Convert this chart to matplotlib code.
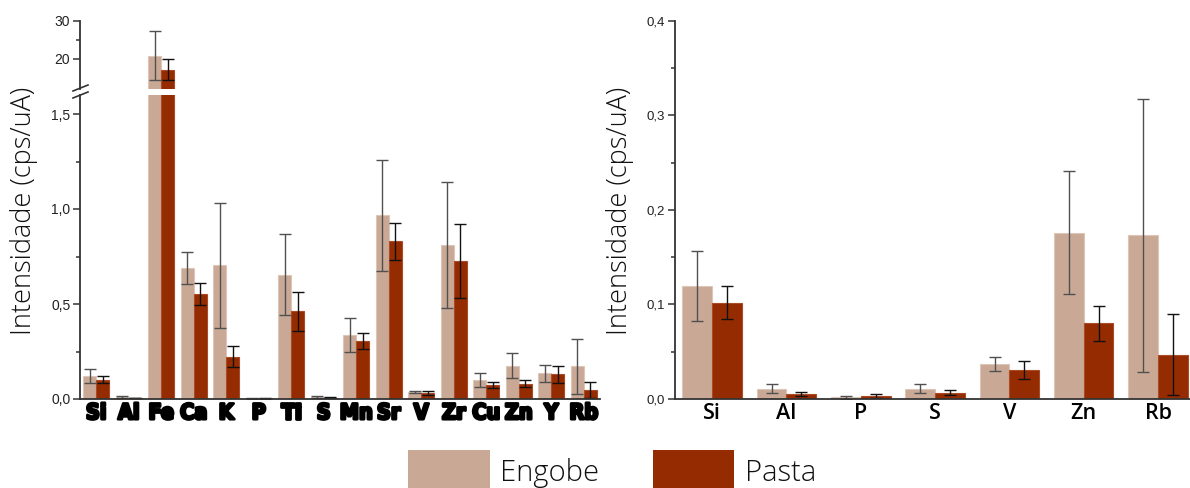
import numpy as np
import matplotlib
matplotlib.use("Agg")
import matplotlib.pyplot as plt
import matplotlib.patheffects as pe
from matplotlib.lines import Line2D
from matplotlib.patches import Rectangle
from matplotlib.ticker import FixedLocator, MultipleLocator
from matplotlib.font_manager import FontProperties

# Data (cps/uA)
elements = ['Si', 'Al', 'Fe', 'Ca', 'K', 'P', 'Ti', 'S', 'Mn', 'Sr', 'V', 'Zr', 'Cu', 'Zn', 'Y', 'Rb']
engobe = [0.119, 0.011, 20.8, 0.690, 0.703, 0.002, 0.655, 0.011, 0.337, 0.967, 0.037, 0.811, 0.100, 0.176, 0.136, 0.173]
engobe_err = [0.037, 0.0044, 6.55, 0.084, 0.33, 0.0016, 0.215, 0.0048, 0.089, 0.292, 0.007, 0.33, 0.0385, 0.0655, 0.045, 0.1444]
pasta = [0.102, 0.0049, 17.1, 0.552, 0.223, 0.0032, 0.461, 0.0067, 0.305, 0.831, 0.031, 0.726, 0.073, 0.080, 0.129, 0.047]
pasta_err = [0.017, 0.002, 2.7, 0.059, 0.054, 0.0018, 0.1025, 0.0027, 0.0425, 0.0975, 0.0094, 0.193, 0.017, 0.0187, 0.045, 0.0432]

# elements shown again in the zoomed panel
zoom_elements = ['Si', 'Al', 'P', 'S', 'V', 'Zn', 'Rb']

C_ENG = '#C9A996'
C_PAS = '#952B00'
W = 0.4

FIG_W, FIG_H = 1190, 488


def fbox(x0, y0, x1, y1):
    # pixel box (top-left origin) -> figure rect
    return [x0 / FIG_W, 1 - y1 / FIG_H, (x1 - x0) / FIG_W, (y1 - y0) / FIG_H]


def draw_bars(ax, x, e, ee, p, pe_):
    ax.bar(x - W / 2, e, W, color=C_ENG, edgecolor='#DCC6B8', linewidth=0.8,
           yerr=ee, error_kw=dict(ecolor='#505050', elinewidth=1, capsize=4, capthick=1))
    ax.bar(x + W / 2, p, W, color=C_PAS, edgecolor='#A84B26', linewidth=0.8,
           yerr=pe_, error_kw=dict(ecolor='#111111', elinewidth=1, capsize=4, capthick=1))


def style_axis(ax, bottom=True):
    for s in ['top', 'right']:
        ax.spines[s].set_visible(False)
    ax.spines['left'].set_color('#333333')
    ax.spines['left'].set_linewidth(1.3)
    ax.spines['bottom'].set_color('#333333')
    ax.spines['bottom'].set_linewidth(1.3)
    if not bottom:
        ax.spines['bottom'].set_visible(False)
    ax.tick_params(axis='y', which='major', length=5, width=1.1, color='#333333',
                   labelsize=10, labelcolor='#222222', pad=2)
    ax.tick_params(axis='y', which='minor', length=3, width=1.1, color='#333333')
    ax.tick_params(axis='x', length=0)
    for lab in ax.get_yticklabels():
        lab.set_fontfamily('Liberation Sans')


def comma_fmt(v, pos=None, nd=1):
    return f"{v:.{nd}f}".replace('.', ',')


def main():
    fig = plt.figure(figsize=(11.9, 4.88), dpi=100)
    x = np.arange(len(elements))
    e = np.array(engobe); ee = np.array(engobe_err)
    p = np.array(pasta); pp = np.array(pasta_err)

    # Left: broken axis
    ax_lo = fig.add_axes(fbox(80, 95, 600, 399))
    ax_hi = fig.add_axes(fbox(80, 20.7, 600, 89), sharex=ax_lo)
    for ax in (ax_lo, ax_hi):
        draw_bars(ax, x, e, ee, p, pp)
        ax.set_xlim(-0.5, 15.5)
    ax_lo.set_ylim(0, 1.6)
    ax_hi.set_ylim(12, 30)
    ax_lo.yaxis.set_major_locator(FixedLocator([0, 0.5, 1.0, 1.5]))
    ax_lo.yaxis.set_minor_locator(FixedLocator([0.25, 0.75, 1.25]))
    ax_lo.yaxis.set_major_formatter(lambda v, pos: comma_fmt(v))
    ax_hi.yaxis.set_major_locator(FixedLocator([20, 30]))
    ax_hi.yaxis.set_minor_locator(FixedLocator([25]))
    ax_hi.yaxis.set_major_formatter(lambda v, pos: f"{v:.0f}")
    style_axis(ax_lo)
    style_axis(ax_hi, bottom=False)
    ax_hi.tick_params(axis='x', labelbottom=False)

    # heavy, condensed element labels
    label_font = FontProperties(family='DejaVu Sans', weight='bold', stretch='condensed', size=15.5)
    ax_lo.set_xticks(x)
    ax_lo.set_xticklabels(elements)
    for lab in ax_lo.get_xticklabels():
        lab.set_fontproperties(label_font)
        lab.set_path_effects([pe.withStroke(linewidth=2.0, foreground='black')])
    ax_lo.tick_params(axis='x', pad=3)

    # break marks on the left axis
    for y0 in (91, 98):
        fig.add_artist(Line2D([73 / FIG_W, 88 / FIG_W],
                              [1 - y0 / FIG_H, 1 - (y0 - 6) / FIG_H],
                              color='#333333', linewidth=1.2))

    # Right: zoom on small elements
    idx = [elements.index(el) for el in zoom_elements]
    xr = np.arange(len(zoom_elements))
    ax_r = fig.add_axes(fbox(675, 20.7, 1190, 399))
    draw_bars(ax_r, xr, e[idx], ee[idx], p[idx], pp[idx])
    ax_r.set_xlim(-0.5, 6.43)
    ax_r.set_ylim(0, 0.4)
    ax_r.yaxis.set_major_locator(MultipleLocator(0.1))
    ax_r.yaxis.set_minor_locator(MultipleLocator(0.05))
    ax_r.yaxis.set_major_formatter(lambda v, pos: comma_fmt(v))
    style_axis(ax_r)
    ax_r.tick_params(axis='y', labelsize=9.5)
    ax_r.set_xticks(xr)
    ax_r.set_xticklabels(zoom_elements, fontfamily='Open Sans', fontweight='semibold', fontsize=15.5)
    ax_r.tick_params(axis='x', pad=3)

    # y labels
    for xc in (24, 620):
        fig.text(xc / FIG_W, 1 - 211 / FIG_H, 'Intensidade (cps/uA)', rotation=90,
                 ha='center', va='center', fontsize=19.5, fontfamily='Open Sans',
                 fontweight='light', color='#111111')

    # legend at the bottom, cut by the figure edge as in the reference
    for (x0, x1, col, tx, label) in [(408, 490, C_ENG, 500, 'Engobe'),
                                     (653, 734, C_PAS, 745, 'Pasta')]:
        fig.add_artist(Rectangle((x0 / FIG_W, 0), (x1 - x0) / FIG_W, 38 / FIG_H,
                                 transform=fig.transFigure, facecolor=col, edgecolor='none'))
        fig.text(tx / FIG_W, 1 - 481 / FIG_H, label, ha='left', va='baseline',
                 fontsize=21, fontfamily='Open Sans', fontweight='light', color='#111111')

    fig.savefig('out.png', dpi=100)


if __name__ == "__main__":
    main()
